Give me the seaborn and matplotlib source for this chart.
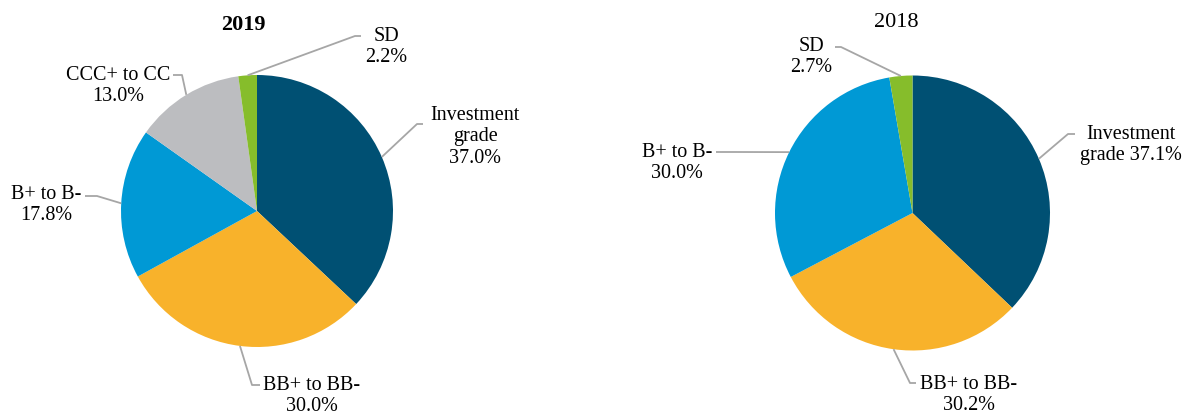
import numpy as np
import matplotlib
matplotlib.use("Agg")
import matplotlib.pyplot as plt
import seaborn as sns

# Rating distribution by year (shares in percent)
categories_2019 = ["Investment grade", "BB+ to BB-", "B+ to B-", "CCC+ to CC", "SD"]
shares_2019 = [37.0, 30.0, 17.8, 13.0, 2.2]

categories_2018 = ["Investment grade", "BB+ to BB-", "B+ to B-", "SD"]
shares_2018 = [37.1, 30.2, 30.0, 2.7]

palette = {
    "Investment grade": "#005073",
    "BB+ to BB-": "#F8B22B",
    "B+ to B-": "#0099D5",
    "CCC+ to CC": "#BCBDC0",
    "SD": "#86BD2B",
}

sns.set_theme(style="white")
plt.rcParams["font.family"] = ["Liberation Serif", "DejaVu Serif"]

W, H = 1186, 414
fig = plt.figure(figsize=(W / 100, H / 100), dpi=100)
ax = fig.add_axes([0, 0, 1, 1])
ax.set_xlim(0, W)
ax.set_ylim(0, H)
ax.set_aspect("equal")
ax.axis("off")


def pt(x, y):
    """Canvas position measured from the top-left corner."""
    return x, H - y


# Per-chart layout: pie centre/radius, title, and label placement
# (text centre, elbow of the leader line, end of the leader line)
charts = [
    dict(
        title="2019", bold=True, title_pos=(243, 25),
        cats=categories_2019, vals=shares_2019,
        center=(257, 212), radius=136,
        labels={
            "Investment grade": ("Investment\ngrade\n{:.1f}%", (475, 137), (417, 125), (423, 125)),
            "BB+ to BB-": ("BB+ to BB-\n{:.1f}%", (312, 396), (252, 386), (260, 386)),
            "B+ to B-": ("B+ to B-\n{:.1f}%", (46, 205), (97, 197), (85, 197)),
            "CCC+ to CC": ("CCC+ to CC\n{:.1f}%", (118, 86), (182, 76), (173, 76)),
            "SD": ("SD\n{:.1f}%", (386, 47), (355, 37), (361, 37)),
        },
    ),
    dict(
        title="2018", bold=False, title_pos=(896, 22),
        cats=categories_2018, vals=shares_2018,
        center=(912.5, 214), radius=137.5,
        labels={
            "Investment grade": ("Investment\ngrade {:.1f}%", (1131, 145), (1068, 135), (1075, 135)),
            "BB+ to BB-": ("BB+ to BB-\n{:.1f}%", (969, 395), (910, 384), (916, 384)),
            "B+ to B-": ("B+ to B-\n{:.1f}%", (677, 163), (735, 153), (716, 153)),
            "SD": ("SD\n{:.1f}%", (811, 57), (841, 48), (835, 48)),
        },
    ),
]

leader_color = "#A6A6A6"

for ch in charts:
    cx, cy = pt(*ch["center"])
    r = ch["radius"]
    wedges, _ = ax.pie(
        ch["vals"],
        colors=[palette[c] for c in ch["cats"]],
        startangle=90,
        counterclock=False,
        center=(cx, cy),
        radius=r,
        wedgeprops=dict(linewidth=0),
        frame=True,
    )
    tx, ty = pt(*ch["title_pos"])
    ax.text(tx, ty, ch["title"], ha="center", va="center", fontsize=16,
            fontweight="bold" if ch["bold"] else "normal", color="black")

    for w, cat, val in zip(wedges, ch["cats"], ch["vals"]):
        fmt, tpos, elbow, end = ch["labels"][cat]
        mid = np.deg2rad((w.theta1 + w.theta2) / 2)
        sx, sy = cx + r * np.cos(mid), cy + r * np.sin(mid)
        ex, ey = pt(*elbow)
        nx, ny = pt(*end)
        ax.plot([sx, ex, nx], [sy, ey, ny], color=leader_color, lw=1.3,
                solid_capstyle="butt", zorder=1)
        lx, ly = pt(*tpos)
        ax.text(lx, ly, fmt.format(val), ha="center", va="center",
                fontsize=14.5, color="black", linespacing=1.15)

ax.set_xlim(0, W)
ax.set_ylim(0, H)
ax.axis("off")

fig.savefig("out.png", dpi=100, facecolor="white")
